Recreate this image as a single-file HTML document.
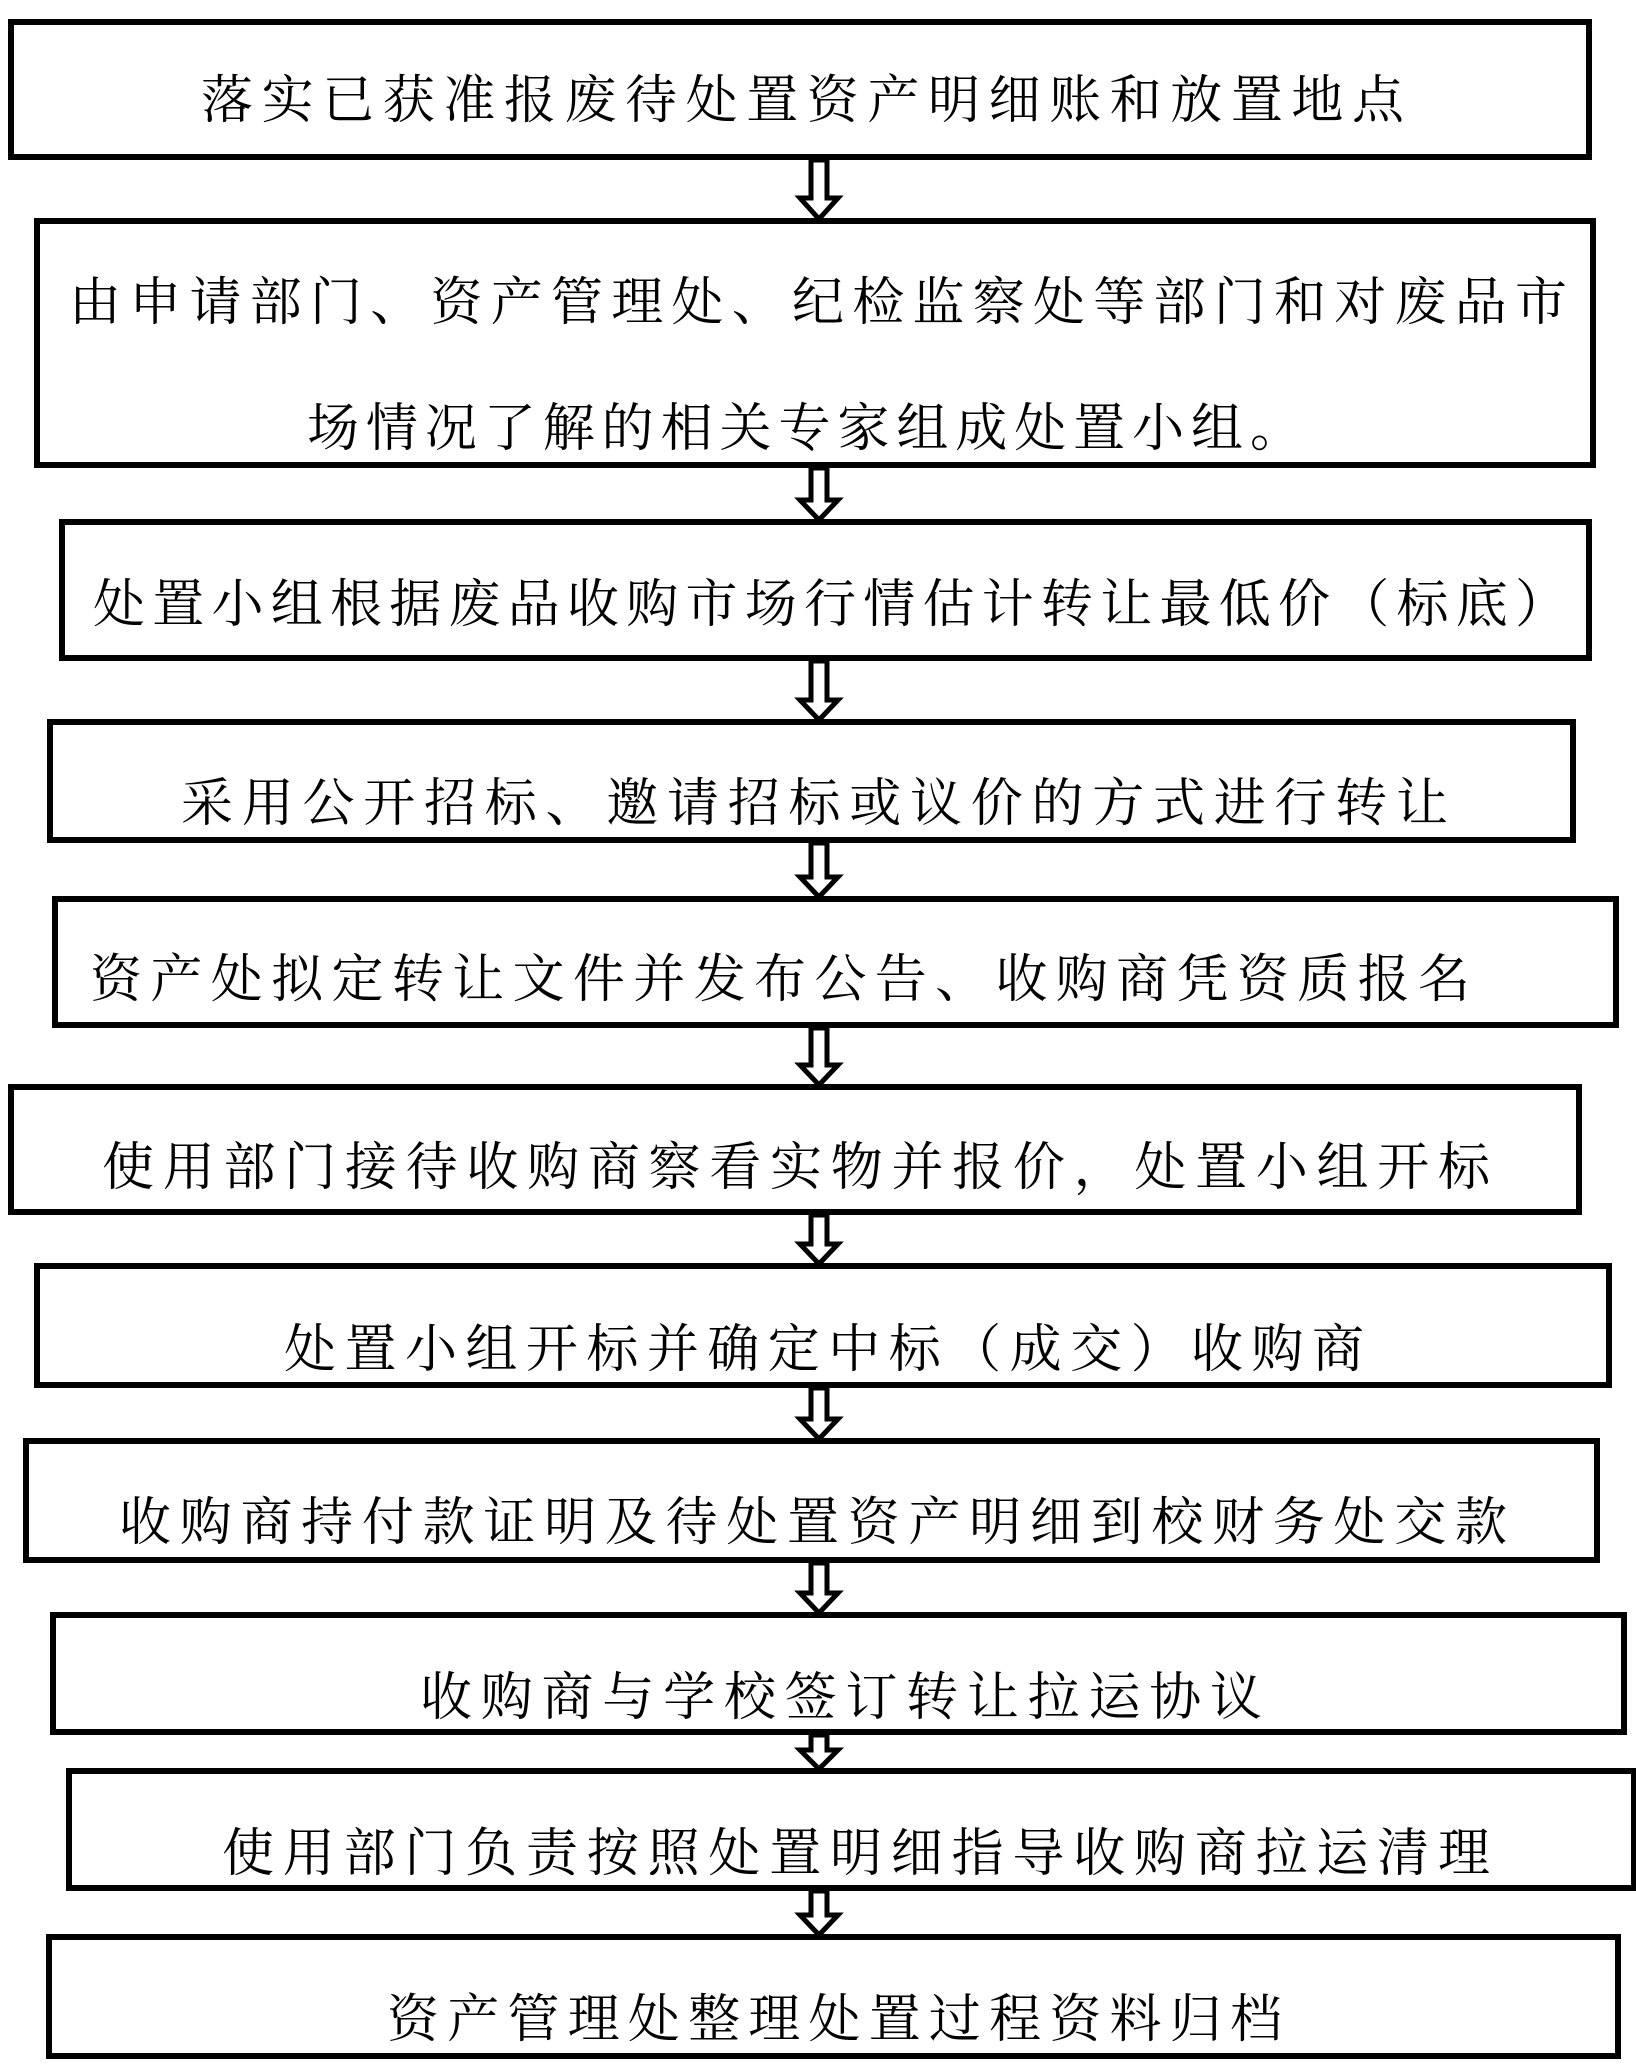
<!DOCTYPE html>
<html><head><meta charset="utf-8"><style>
html,body{margin:0;padding:0;background:#fff;}
svg{display:block;}
text{font-family:"Noto Serif CJK SC","Liberation Serif",serif;font-size:52px;fill:#000;}
</style></head><body>
<svg width="1636" height="2071" viewBox="0 0 1636 2071" xmlns="http://www.w3.org/2000/svg">
<g fill="none" stroke="#000" stroke-width="6">
<rect x="11" y="22" width="1578" height="135"/>
<rect x="37" y="221" width="1556" height="244"/>
<rect x="62" y="522" width="1527" height="136"/>
<rect x="50" y="722" width="1523" height="118"/>
<rect x="55" y="899" width="1561" height="126"/>
<rect x="11" y="1087" width="1568" height="125"/>
<rect x="37" y="1266" width="1572" height="119"/>
<rect x="26" y="1441" width="1571" height="119"/>
<rect x="53" y="1615" width="1571" height="117"/>
<rect x="69" y="1771" width="1565" height="117"/>
<rect x="49" y="1937" width="1569" height="119"/>
</g>
<g fill="#fff" stroke="#000" stroke-width="5" stroke-linejoin="miter">
<polygon points="811,160 827,160 827,198 838,198 819,219 800,198 811,198"/>
<polygon points="811,468 827,468 827,500 838,500 819,520 800,500 811,500"/>
<polygon points="811,661 827,661 827,700 838,700 819,720 800,700 811,700"/>
<polygon points="811,843 827,843 827,877 838,877 819,897 800,877 811,877"/>
<polygon points="811,1028 827,1028 827,1065 838,1065 819,1085 800,1065 811,1065"/>
<polygon points="811,1215 827,1215 827,1244 838,1244 819,1264 800,1244 811,1244"/>
<polygon points="811,1388 827,1388 827,1419 838,1419 819,1439 800,1419 811,1419"/>
<polygon points="811,1563 827,1563 827,1593 838,1593 819,1613 800,1593 811,1593"/>
<polygon points="811,1735 827,1735 827,1750 838,1750 819,1769 800,1750 811,1750"/>
<polygon points="811,1891 827,1891 827,1915 838,1915 819,1935 800,1915 811,1915"/>
</g>
<text x="201" y="118" textLength="1203" lengthAdjust="spacing">落实已获准报废待处置资产明细账和放置地点</text>
<text x="69" y="320" textLength="1498" lengthAdjust="spacing">由申请部门、资产管理处、纪检监察处等部门和对废品市</text>
<text x="307" y="446" textLength="995" lengthAdjust="spacing">场情况了解的相关专家组成处置小组。</text>
<text x="93" y="622" textLength="1474" lengthAdjust="spacing">处置小组根据废品收购市场行情估计转让最低价（标底）</text>
<text x="181" y="821" textLength="1267" lengthAdjust="spacing">采用公开招标、邀请招标或议价的方式进行转让</text>
<text x="90" y="997" textLength="1380" lengthAdjust="spacing">资产处拟定转让文件并发布公告、收购商凭资质报名</text>
<text x="102" y="1185" textLength="1388" lengthAdjust="spacing">使用部门接待收购商察看实物并报价，处置小组开标</text>
<text x="284" y="1367" textLength="1080" lengthAdjust="spacing">处置小组开标并确定中标（成交）收购商</text>
<text x="119" y="1540" textLength="1388" lengthAdjust="spacing">收购商持付款证明及待处置资产明细到校财务处交款</text>
<text x="420" y="1715" textLength="842" lengthAdjust="spacing">收购商与学校签订转让拉运协议</text>
<text x="222" y="1871" textLength="1268" lengthAdjust="spacing">使用部门负责按照处置明细指导收购商拉运清理</text>
<text x="387" y="2037" textLength="895" lengthAdjust="spacing">资产管理处整理处置过程资料归档</text>
</svg>
</body></html>
